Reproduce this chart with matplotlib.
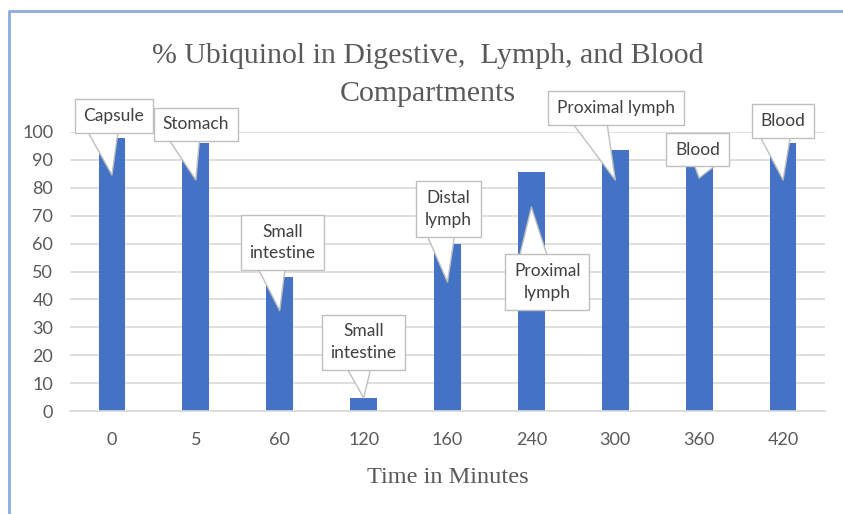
import matplotlib
matplotlib.use("Agg")
import matplotlib.pyplot as plt
from matplotlib.lines import Line2D

# ---- data ----
categories = ["0", "5", "60", "120", "160", "240", "300", "360", "420"]
values = [98, 96, 48, 4.5, 60, 85.5, 93.5, 88, 96]
callout_labels = ["Capsule", "Stomach", "Small\nintestine", "Small\nintestine",
                  "Distal\nlymph", "Proximal\nlymph", "Proximal lymph", "Blood", "Blood"]
# callout box centres (category index, value units) and pointer tips (value units)
box_x = [0.02, 1.0, 2.03, 3.0, 4.01, 5.19, 6.01, 6.98, 8.0]
box_y = [105.7, 102.7, 60.4, 24.6, 72.4, 46.2, 108.6, 93.7, 103.9]
tip_y = [84.6, 82.8, 36.0, 4.7, 46.2, 73.1, 82.8, 83.5, 82.8]
rel_pos = [(0.3, 0.3), (0.3, 0.3), (0.3, 0.3), (0.4, 0.3), (0.3, 0.3),
           (0.3, 0.7), (0.25, 0.3), (0.7, 0.3), (0.3, 0.3)]
yticks = list(range(0, 101, 10))
title_lines = ["% Ubiquinol in Digestive,  Lymph, and Blood", "Compartments"]

BLUE = "#4472C4"
GREY = "#595959"
GRID = "#d9d9d9"

fig = plt.figure(figsize=(8.43, 5.14), dpi=100)
ax = fig.add_axes([70 / 843, 1 - 411 / 514, (825 - 70) / 843, (411 - 132) / 514])

x = list(range(len(categories)))
ax.bar(x, values, width=0.32, color=BLUE, zorder=2)

ax.set_xlim(-0.5, len(categories) - 0.5)
ax.set_ylim(0, 100)
ax.set_yticks(yticks)
ax.set_xticks(x)
ax.set_xticklabels(categories)
ax.yaxis.grid(True, color=GRID, linewidth=1.2)
ax.set_axisbelow(True)
for s in ["top", "right", "left"]:
    ax.spines[s].set_visible(False)
ax.spines["bottom"].set_color(GRID)
ax.spines["bottom"].set_linewidth(1.2)
ax.tick_params(axis="both", length=0, labelsize=13, labelcolor=GREY)
ax.tick_params(axis="x", pad=15)
ax.tick_params(axis="y", pad=12)
for lab in ax.get_xticklabels() + ax.get_yticklabels():
    lab.set_fontfamily("Lato")

ax.set_xlabel("Time in Minutes", fontfamily="Liberation Serif", fontsize=17.5,
              color=GREY, labelpad=14)

for line, ypix in zip(title_lines, [56, 94]):
    fig.text(0.508, 1 - ypix / 514, line, ha="center", va="center",
             fontfamily="Liberation Serif", fontsize=21.5, color=GREY)

for i, lab in enumerate(callout_labels):
    ax.annotate(lab, xy=(x[i], tip_y[i]), xytext=(box_x[i], box_y[i]),
                ha="center", va="center", fontsize=12.5, fontfamily="Lato",
                color="#404040", linespacing=1.45, annotation_clip=False, zorder=5,
                bbox=dict(boxstyle="square,pad=0.5", fc="white", ec="#bfbfbf", lw=1.0),
                arrowprops=dict(arrowstyle="wedge,tail_width=2.2,shrink_factor=0.5",
                                fc="white", ec="#bfbfbf", lw=1.0,
                                relpos=rel_pos[i], patchA=None, shrinkA=0, shrinkB=0))

# chart frame (left and top edges)
fig.add_artist(Line2D([9 / 843, 9 / 843, 1.0], [0.0, 1 - 11 / 514, 1 - 11 / 514],
                      transform=fig.transFigure, color="#8faadc", linewidth=2))

fig.savefig("out.png", dpi=100, facecolor="white")
